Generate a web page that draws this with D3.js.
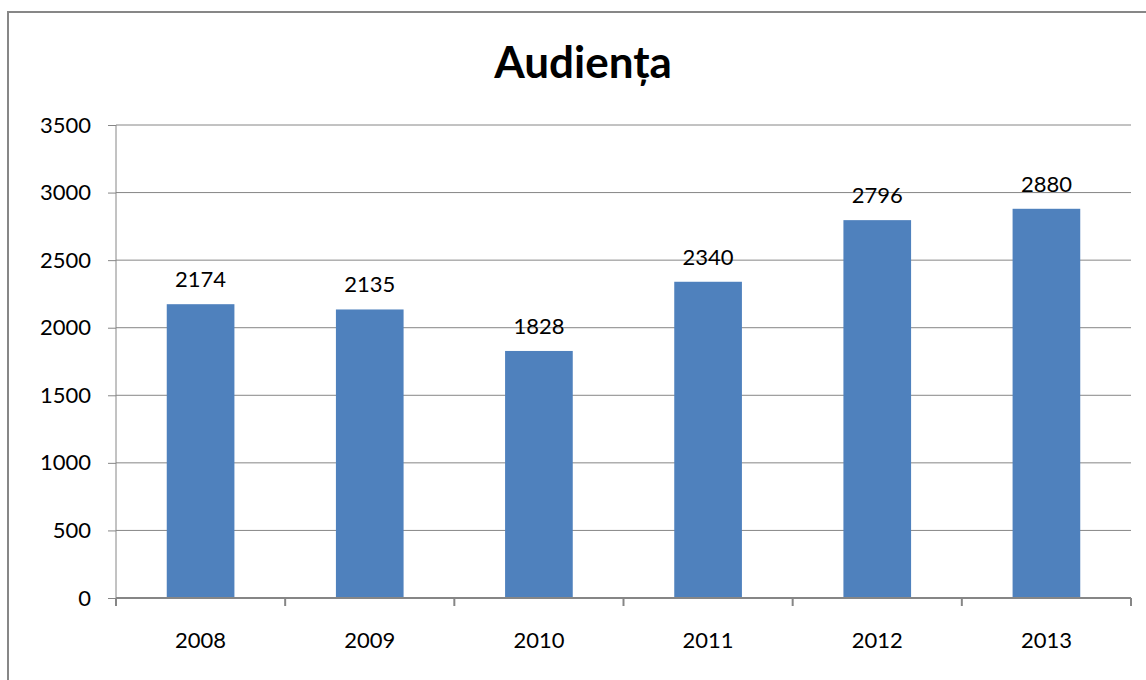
<!DOCTYPE html>
<html>
<head>
<meta charset="utf-8">
<script src="https://cdn.jsdelivr.net/npm/d3@7"></script>
<style>
  body { margin: 0; background: #fff; }
  text { font-family: Lato, "Open Sans", sans-serif; fill: #000; }
</style>
</head>
<body>
<div id="chart"></div>
<script>
// data
var years = ["2008", "2009", "2010", "2011", "2012", "2013"];
var audience = [2174, 2135, 1828, 2340, 2796, 2880];
var yTicks = [0, 500, 1000, 1500, 2000, 2500, 3000, 3500];

var W = 1146, H = 680;
var margin = {top: 125, right: 15, bottom: 82, left: 116};
var width = W - margin.left - margin.right,
    height = H - margin.top - margin.bottom;

var svg = d3.select("#chart").append("svg")
    .attr("width", W)
    .attr("height", H);

// outer frame (runs off the right/bottom edge)
svg.append("rect")
    .attr("x", 8).attr("y", 12)
    .attr("width", W + 10).attr("height", H + 10)
    .attr("fill", "none")
    .attr("stroke", "#878787")
    .attr("stroke-width", 2);

svg.append("text")
    .attr("x", 583)
    .attr("y", 78)
    .attr("text-anchor", "middle")
    .style("font-size", "44px")
    .style("font-weight", "bold")
    .text("Audiența");

var g = svg.append("g")
    .attr("transform", "translate(" + margin.left + "," + margin.top + ")");

var x = d3.scaleBand().domain(years).range([0, width]).padding(0);
var y = d3.scaleLinear().domain([0, 3500]).range([height, 0]);

// gridlines
g.selectAll(".grid")
    .data(yTicks.slice(1))
    .enter().append("line")
    .attr("x1", 0).attr("x2", width)
    .attr("y1", function (d) { return y(d); })
    .attr("y2", function (d) { return y(d); })
    .attr("stroke", "#868686")
    .attr("stroke-width", 1);

// bars
var barW = x.bandwidth() * 0.4;
var data = years.map(function (d, i) { return {year: d, value: audience[i]}; });

g.selectAll(".bar")
    .data(data)
    .enter().append("rect")
    .attr("class", "bar")
    .attr("x", function (d) { return x(d.year) + (x.bandwidth() - barW) / 2; })
    .attr("width", barW)
    .attr("y", function (d) { return y(d.value); })
    .attr("height", function (d) { return height - y(d.value); })
    .attr("fill", "#4F81BD");

// value labels
g.selectAll(".lbl")
    .data(data)
    .enter().append("text")
    .attr("x", function (d) { return x(d.year) + x.bandwidth() / 2; })
    .attr("y", function (d) { return y(d.value) - 17; })
    .attr("text-anchor", "middle")
    .style("font-size", "22px")
    .text(function (d) { return d.value; });

// y axis
var yAxis = g.append("g")
    .call(d3.axisLeft(y).tickValues(yTicks).tickFormat(d3.format("d"))
        .tickSize(8).tickPadding(17));
yAxis.selectAll("text").style("font-size", "22px").attr("fill", "#000");
yAxis.selectAll("line, path").attr("stroke", "#868686");
yAxis.select(".domain").attr("d", "M0,0V" + height);

// x axis: ticks at category boundaries
var xAxis = g.append("g")
    .attr("transform", "translate(0," + height + ")");
xAxis.append("line")
    .attr("x1", 0).attr("x2", width)
    .attr("stroke", "#868686").attr("stroke-width", 2);
var bounds = years.map(function (d) { return x(d); }).concat([width]);
xAxis.selectAll(".tk")
    .data(bounds)
    .enter().append("line")
    .attr("x1", function (d) { return d; })
    .attr("x2", function (d) { return d; })
    .attr("y1", 0).attr("y2", 8)
    .attr("stroke", "#868686").attr("stroke-width", 2);
xAxis.selectAll(".xl")
    .data(years)
    .enter().append("text")
    .attr("x", function (d) { return x(d) + x.bandwidth() / 2; })
    .attr("y", 50)
    .attr("text-anchor", "middle")
    .style("font-size", "22px")
    .text(function (d) { return d; });
</script>
</body>
</html>
